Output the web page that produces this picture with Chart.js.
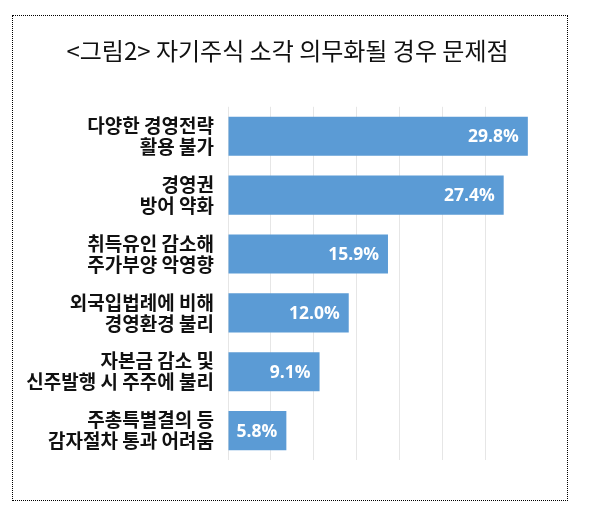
<!DOCTYPE html>
<html>
<head>
<meta charset="utf-8">
<script src="https://cdn.jsdelivr.net/npm/chart.js@4/dist/chart.umd.min.js"></script>
<style>
  html, body { margin: 0; padding: 0; background: #fff; }
  #wrap { position: relative; width: 595px; height: 530px; }
  #frame {
    position: absolute; left: 12px; top: 15px; width: 554px; height: 484px;
    border: 1px dotted #000; pointer-events: none;
  }
  canvas { position: absolute; left: 0; top: 0; }
</style>
</head>
<body>
<div id="wrap">
  <canvas id="problemChart" width="595" height="530"></canvas>
  <div id="frame"></div>
</div>
<script>
const categories = [
  ["다양한 경영전략", "활용 불가"],
  ["경영권", "방어 약화"],
  ["취득유인 감소해", "주가부양 악영향"],
  ["외국입법례에 비해", "경영환경 불리"],
  ["자본금 감소 및", "신주발행 시 주주에 불리"],
  ["주총특별결의 등", "감자절차 통과 어려움"],
];
const shares = [29.8, 27.4, 15.9, 12.0, 9.1, 5.8];
const valueLabels = ["29.8%", "27.4%", "15.9%", "12.0%", "9.1%", "5.8%"];

// white value text drawn at the inner end of each bar
const barValuePlugin = {
  id: "barValues",
  afterDatasetsDraw(chart) {
    const ctx = chart.ctx;
    const meta = chart.getDatasetMeta(0);
    ctx.save();
    ctx.font = "bold 17.5px 'Open Sans'";
    ctx.fillStyle = "#ffffff";
    ctx.textAlign = "right";
    ctx.textBaseline = "middle";
    meta.data.forEach((bar, i) => {
      ctx.fillText(valueLabels[i], bar.x - 9, bar.y + 1);
    });
    ctx.restore();
  },
};

const ctx = document.getElementById("problemChart").getContext("2d");
new Chart(ctx, {
  type: "bar",
  data: {
    labels: categories,
    datasets: [{
      data: shares,
      backgroundColor: "#5b9bd5",
      borderWidth: 0,
      categoryPercentage: 1,
      barPercentage: 0.665,
    }],
  },
  options: {
    indexAxis: "y",
    responsive: false,
    animation: false,
    devicePixelRatio: 1,
    layout: { padding: { left: 20, right: 40, top: 0, bottom: 70 } },
    scales: {
      x: {
        min: 0,
        max: 32.5,
        afterBuildTicks: (scale) => {
          scale.ticks = [0, 1, 2, 3, 4, 5, 6].map((i) => ({ value: i * 4.27 }));
        },
        ticks: { display: false },
        grid: { color: "#e6e6e6", drawTicks: false },
        border: { display: false },
      },
      y: {
        afterFit: (scale) => { scale.width = 208; },
        grid: { display: false },
        border: { display: false },
        ticks: {
          padding: 6,
          color: "#111",
          font: { family: "'Noto Sans CJK KR'", size: 19, weight: "bold", lineHeight: 1.1 },
        },
      },
    },
    plugins: {
      legend: { display: false },
      tooltip: { enabled: false },
      title: {
        display: true,
        text: "<그림2> 자기주식 소각 의무화될 경우 문제점",
        color: "#111",
        font: { family: "'Noto Sans CJK KR'", size: 24, weight: "normal", lineHeight: 1.2 },
        padding: { top: 36, bottom: 42 },
      },
    },
  },
  plugins: [barValuePlugin],
});
</script>
</body>
</html>
